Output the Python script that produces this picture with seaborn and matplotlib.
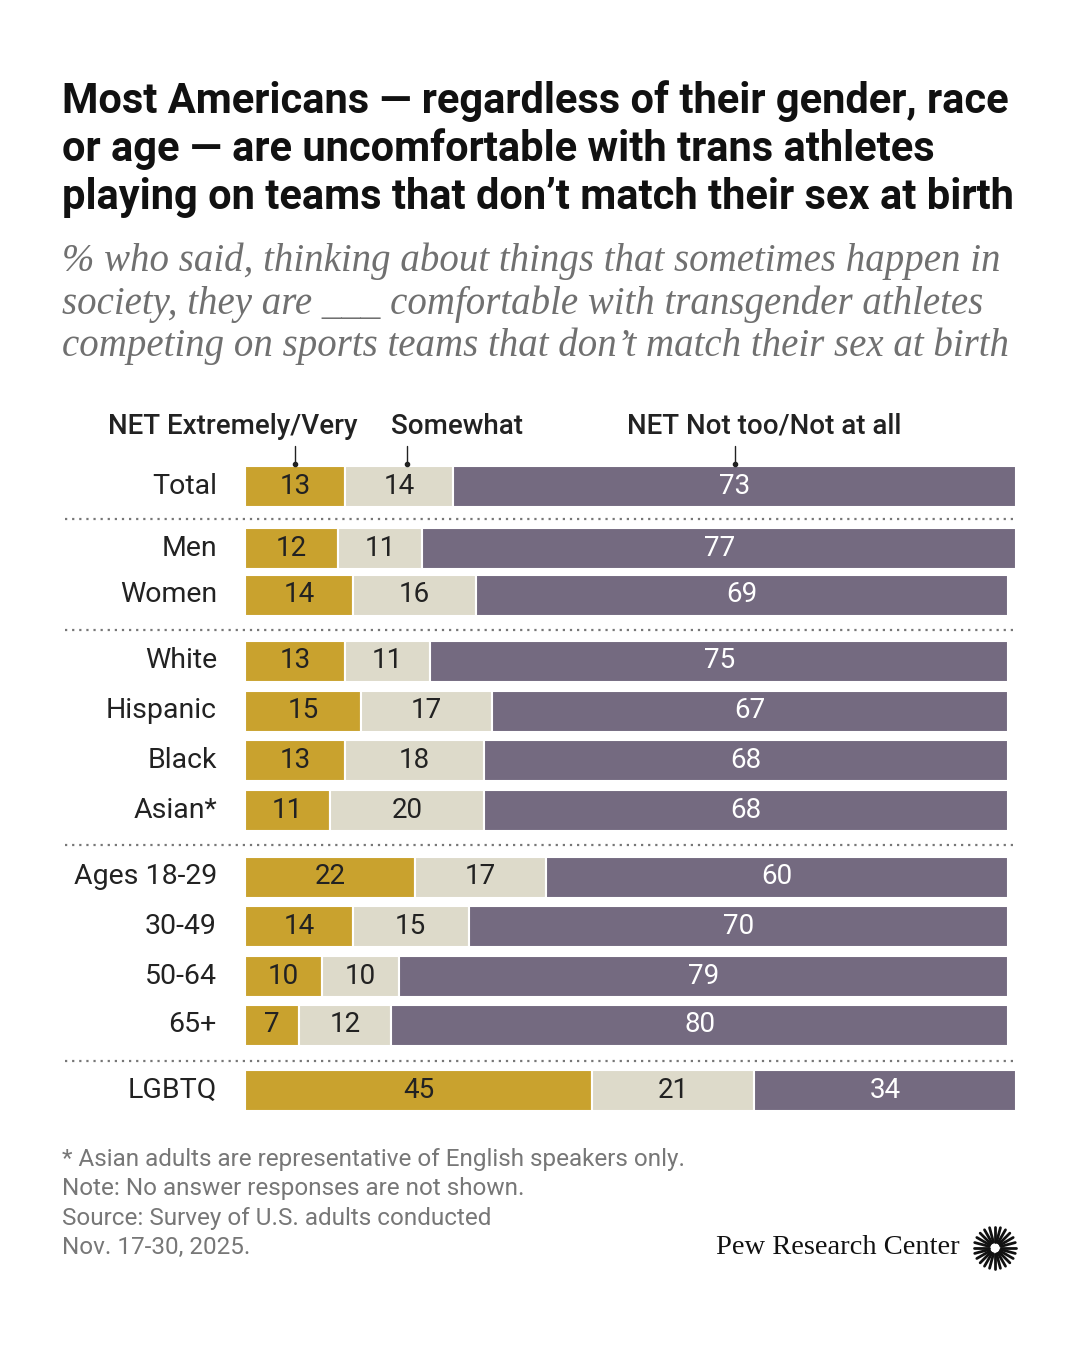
import numpy as np
import pandas as pd
import seaborn as sns
import matplotlib.pyplot as plt


# Survey shares by group (NET Extremely/Very, Somewhat, NET Not too/Not at all)
rows = [
    ("Total", 13, 14, 73, 486),
    ("Men", 12, 11, 77, 548),
    ("Women", 14, 16, 69, 595),
    ("White", 13, 11, 75, 661),
    ("Hispanic", 15, 17, 67, 711),
    ("Black", 13, 18, 68, 760),
    ("Asian*", 11, 20, 68, 810),
    ("Ages 18-29", 22, 17, 60, 877),
    ("30-49", 14, 15, 70, 926),
    ("50-64", 10, 10, 79, 976),
    ("65+", 7, 12, 80, 1025),
    ("LGBTQ", 45, 21, 34, 1090),
]
df = pd.DataFrame(rows, columns=["Group", "Very", "Somewhat", "Not", "ypx"])
separators = [519, 630, 845, 1061]

sns.set_theme(style="white")
plt.rcParams["font.family"] = ["Roboto", "DejaVu Sans"]

colors = {"Very": "#C9A22E", "Somewhat": "#DDDACA", "Not": "#746A80"}

fig = plt.figure(figsize=(10.8, 13.5), dpi=100)
W, H = 1080, 1350
y0, y1 = 455, 1120
ax = fig.add_axes([245 / W, 1 - y1 / H, (1016 - 245) / W, (y1 - y0) / H])
ax.set_xlim(0, 100)
ax.set_ylim(y1, y0)
ax.axis("off")

left = np.zeros(len(df))
for col in ["Very", "Somewhat", "Not"]:
    ax.barh(df["ypx"], df[col], left=left, height=41, color=colors[col],
            edgecolor="white", linewidth=1.5)
    for yy, l, v in zip(df["ypx"], left, df[col]):
        ax.text(l + v / 2, yy, str(v), ha="center", va="center", fontsize=20,
                color="white" if col == "Not" else "#222222")
    left = left + df[col].values

for yy, g in zip(df["ypx"], df["Group"]):
    fig.text(217 / W, 1 - yy / H, g, ha="right", va="center", fontsize=20.5, color="#222222")

for s in separators:
    fig.add_artist(plt.Line2D([65 / W, 1013 / W], [1 - s / H] * 2, color="#777777",
                              linestyle=(0, (1, 2.2)), linewidth=1.6))

# column headers with pointer ticks
for label, xh, xt in [("NET Extremely/Very", 233, 295), ("Somewhat", 457, 407),
                      ("NET Not too/Not at all", 764, 735)]:
    fig.text(xh / W, 1 - 426 / H, label, ha="center", va="center", fontsize=20,
             fontweight="medium", color="#222222")
    fig.add_artist(plt.Line2D([xt / W] * 2, [1 - 446 / H, 1 - 464 / H], color="#222222", linewidth=1))
    fig.add_artist(plt.Line2D([xt / W], [1 - 464 / H], marker="o", markersize=3, color="#222222"))

fig.text(62 / W, 1 - 80 / H,
         "Most Americans — regardless of their gender, race\nor age — are uncomfortable with trans athletes\n"
         "playing on teams that don’t match their sex at birth",
         ha="left", va="top", fontsize=30, fontweight="bold", color="#111111", linespacing=1.2)
fig.text(62 / W, 1 - 243 / H,
         "% who said, thinking about things that sometimes happen in\nsociety, they are ___ comfortable with transgender athletes\n"
         "competing on sports teams that don’t match their sex at birth",
         ha="left", va="top", fontsize=28, fontstyle="italic", family=["Liberation Serif", "DejaVu Serif"],
         color="#707070", linespacing=1.17)
fig.text(62 / W, 1 - 1148 / H,
         "* Asian adults are representative of English speakers only.\nNote: No answer responses are not shown.\n"
         "Source: Survey of U.S. adults conducted\nNov. 17-30, 2025.",
         ha="left", va="top", fontsize=17.5, color="#777777", linespacing=1.35)
fig.text(960 / W, 1 - 1248 / H, "Pew Research Center", ha="right", va="center", fontsize=20.5,
         family=["Liberation Serif", "DejaVu Serif"], color="#111111")
ang = np.linspace(0, 2 * np.pi, 24, endpoint=False)
for a in ang:
    fig.add_artist(plt.Line2D([(995 + 6 * np.cos(a)) / W, (995 + 21 * np.cos(a)) / W],
                              [1 - (1248 + 6 * np.sin(a)) / H, 1 - (1248 + 21 * np.sin(a)) / H],
                              color="#111111", linewidth=2))

fig.savefig("out.png", dpi=100, facecolor="white")
